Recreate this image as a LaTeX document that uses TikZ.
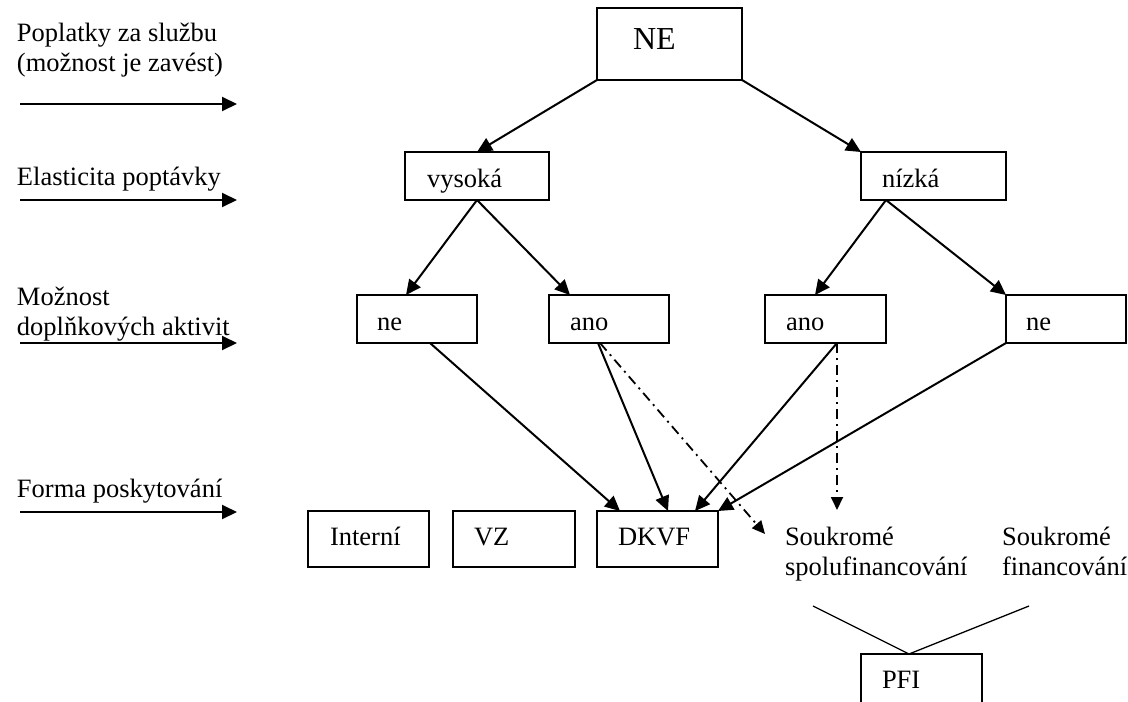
\documentclass[tikz,border=0pt]{standalone}
\usepackage{fontspec}
\setmainfont{Liberation Serif}
\usetikzlibrary{arrows.meta,calc}
\begin{document}
\begin{tikzpicture}[x=0.5pt,y=-0.5pt,
  every node/.style={font=\fontsize{13.25}{15}\selectfont, inner sep=0pt, outer sep=0pt},
  box/.style={draw, line width=1pt, anchor=north west, align=left, minimum height=24pt,
    inner ysep=0pt, text height=11pt, text depth=0pt},
  lowbox/.style={box, minimum height=28pt, text height=6pt},
  lbl/.style={anchor=base west},
  arr/.style={-{Triangle[length=7.5pt,width=7pt]}, line width=1pt},
  dd/.style={-{Triangle[length=6.5pt,width=6pt]}, line width=0.9pt,
    dash pattern=on 5pt off 2.5pt on 1pt off 2.5pt},
  vline/.style={line width=0.65pt}]
\clip (0,0) rectangle (1128,701);
% left labels
\node[lbl] (t1a) at (17,42) {Poplatky za službu};
\node[lbl] (t1b) at (17,72) {(možnost je zavést)};
\node[lbl] (t2) at (17,185) {Elasticita poptávky};
\node[lbl] (t3a) at (17,305) {Možnost};
\node[lbl] (t3b) at (17,335) {doplňkových aktivit};
\node[lbl] (t4) at (17,497) {Forma poskytování};
\coordinate (p1) at (20,104); \coordinate (p1e) at (237,104);
\coordinate (p2) at (20,200); \coordinate (p2e) at (237,200);
\coordinate (p3) at (20,343); \coordinate (p3e) at (237,343);
\coordinate (p4) at (20,512); \coordinate (p4e) at (237,512);
\draw[arr] (p1) -- (p1e);
\draw[arr] (p2) -- (p2e);
\draw[arr] (p3) -- (p3e);
\draw[arr] (p4) -- (p4e);
% boxes
\node[box, font=\fontsize{16}{19}\selectfont, inner xsep=18pt, text width=36.5pt,
  minimum height=36pt, text height=6pt] (NE) at (597,8) {NE};
\node[box, inner xsep=11pt, text width=50pt] (vys) at (405,152) {vysoká};
\node[box, inner xsep=10.5pt, text width=51.5pt] (niz) at (861,152) {nízká};
\node[box, inner xsep=10pt, text width=40pt] (neL) at (357,295) {ne};
\node[box, inner xsep=10.5pt, text width=39pt] (anoL) at (549,295) {ano};
\node[box, inner xsep=10.5pt, text width=39.5pt] (anoR) at (765,295) {ano};
\node[box, inner xsep=10pt, text width=40pt] (neR) at (1006,295) {ne};
\node[lowbox, inner xsep=11pt, text width=38.5pt] (int) at (308,511) {Interní};
\node[lowbox, inner xsep=10.5pt, text width=40pt] (vz) at (453,511) {VZ};
\node[lowbox, inner xsep=10.5pt, text width=39.5pt] (dkvf) at (597,511) {DKVF};
\node[lowbox, inner xsep=10.5pt, text width=39.5pt] (pfi) at (861,654) {PFI};
\node[lbl] (s1a) at (785,545) {Soukromé};
\node[lbl] (s1b) at (785,575) {spolufinancování};
\node[lbl] (s2a) at (1002,545) {Soukromé};
\node[lbl] (s2b) at (1002,575) {financování};
% tree arrows
\draw[arr] (NE.south west) -- (vys.north);
\draw[arr] (NE.south east) -- (niz.north west);
\draw[arr] (vys.south) -- ($(neL.north west)+(49,0)$);
\draw[arr] (vys.south) -- ($(anoL.north west)+(21,0)$);
\draw[arr] ($(niz.south west)+(25,0)$) -- ($(anoR.north west)+(50,0)$);
\draw[arr] ($(niz.south west)+(25,0)$) -- (neR.north west);
\draw[arr] ($(neL.south west)+(73,0)$) -- ($(dkvf.north west)+(23,0)$);
\draw[arr] ($(anoL.south west)+(49,0)$) -- ($(dkvf.north west)+(71,0)$);
\draw[arr] ($(anoR.south west)+(72,0)$) -- ($(dkvf.north west)+(98,0)$);
\draw[arr] (neR.south west) -- (dkvf.north east);
\coordinate (d1e) at (765,534);
\coordinate (d2e) at (837,510);
\draw[dd] ($(anoL.south west)+(51,0)$) -- (d1e);
\draw[dd] ($(anoR.south west)+(72,0)$) -- (d2e);
\coordinate (v1) at (813,606); \coordinate (v2) at (1029,606);
\draw[vline] (v1) -- ($(pfi.north west)+(48,0)$) -- (v2);
\end{tikzpicture}
\end{document}
